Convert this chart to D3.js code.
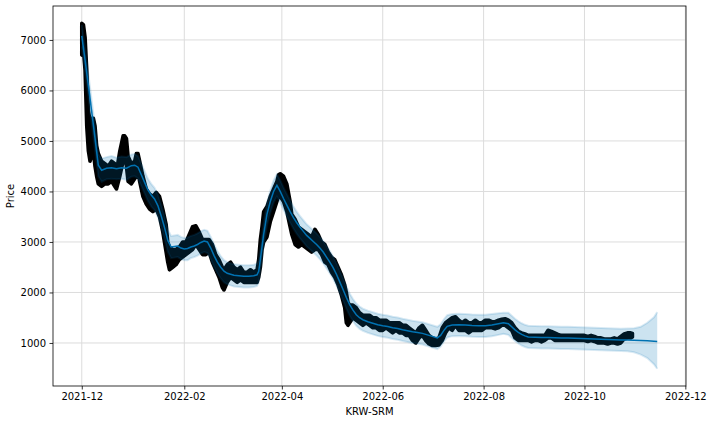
<!DOCTYPE html>
<html>
<head>
<meta charset="utf-8">
<script src="https://cdn.jsdelivr.net/npm/d3@7"></script>
<style>
html,body{margin:0;padding:0;background:#fff;}
svg{display:block;}
text{font-family:"DejaVu Sans",sans-serif;}
</style>
</head>
<body>
<svg id="chart" width="712" height="424"></svg>
<script>
// Observed data (daily low/high of the dense point cloud)
const obsDates = ["2021-12-01","2021-12-02","2021-12-03","2021-12-04","2021-12-05","2021-12-06","2021-12-07","2021-12-08","2021-12-09","2021-12-10","2021-12-11","2021-12-13","2021-12-15","2021-12-17","2021-12-19","2021-12-21","2021-12-22","2021-12-24","2021-12-26","2021-12-27","2021-12-28","2021-12-29","2021-12-31","2022-01-02","2022-01-03","2022-01-04","2022-01-05","2022-01-07","2022-01-09","2022-01-11","2022-01-13","2022-01-15","2022-01-17","2022-01-19","2022-01-21","2022-01-22","2022-01-23","2022-01-25","2022-01-27","2022-01-29","2022-01-31","2022-02-02","2022-02-04","2022-02-06","2022-02-08","2022-02-10","2022-02-12","2022-02-14","2022-02-16","2022-02-18","2022-02-20","2022-02-22","2022-02-24","2022-02-25","2022-02-27","2022-03-01","2022-03-03","2022-03-05","2022-03-07","2022-03-09","2022-03-11","2022-03-13","2022-03-15","2022-03-17","2022-03-18","2022-03-19","2022-03-20","2022-03-21","2022-03-23","2022-03-25","2022-03-27","2022-03-29","2022-03-30","2022-03-31","2022-04-02","2022-04-04","2022-04-06","2022-04-07","2022-04-09","2022-04-11","2022-04-13","2022-04-15","2022-04-17","2022-04-19","2022-04-21","2022-04-23","2022-04-25","2022-04-27","2022-04-29","2022-05-01","2022-05-03","2022-05-05","2022-05-07","2022-05-09","2022-05-10","2022-05-11","2022-05-12","2022-05-14","2022-05-16","2022-05-18","2022-05-20","2022-05-22","2022-05-24","2022-05-26","2022-05-28","2022-05-30","2022-06-01","2022-06-03","2022-06-05","2022-06-07","2022-06-09","2022-06-11","2022-06-13","2022-06-15","2022-06-17","2022-06-19","2022-06-21","2022-06-23","2022-06-25","2022-06-27","2022-06-29","2022-07-01","2022-07-03","2022-07-05","2022-07-07","2022-07-09","2022-07-11","2022-07-13","2022-07-15","2022-07-17","2022-07-19","2022-07-21","2022-07-23","2022-07-25","2022-07-27","2022-07-29","2022-07-31","2022-08-02","2022-08-04","2022-08-06","2022-08-08","2022-08-10","2022-08-12","2022-08-14","2022-08-16","2022-08-18","2022-08-20","2022-08-22","2022-08-24","2022-08-26","2022-08-28","2022-08-30","2022-09-01","2022-09-03","2022-09-05","2022-09-07","2022-09-09","2022-09-11","2022-09-13","2022-09-15","2022-09-17","2022-09-19","2022-09-21","2022-09-23","2022-09-25","2022-09-27","2022-09-29","2022-10-01","2022-10-03","2022-10-05","2022-10-07","2022-10-09","2022-10-11","2022-10-13","2022-10-15","2022-10-17","2022-10-19","2022-10-21","2022-10-23","2022-10-25","2022-10-27","2022-10-29","2022-10-30"];
const obsLow = [6700,6800,6400,5300,4800,4600,4700,4800,4500,4300,4150,4100,4150,4150,4200,4100,4050,4300,4600,4700,4500,4200,4150,4250,4300,4400,4200,3900,3750,3650,3600,3650,3500,3200,2800,2600,2450,2500,2550,2650,2700,2750,2800,2850,2950,2850,2750,2750,2800,2600,2450,2300,2100,2050,2200,2300,2250,2200,2250,2200,2200,2200,2200,2200,2300,2500,2850,3000,3100,3400,3600,3800,3900,3900,3800,3600,3300,3150,2950,2900,2950,2900,2850,2800,2850,2850,2750,2600,2550,2400,2300,2150,1950,1700,1400,1350,1400,1500,1450,1400,1350,1400,1350,1300,1300,1250,1250,1300,1250,1200,1250,1200,1200,1150,1150,1050,1000,1100,1150,1050,980,950,950,960,1050,1200,1300,1250,1350,1250,1250,1250,1200,1250,1250,1250,1250,1300,1300,1300,1280,1300,1350,1350,1300,1250,1100,1050,1050,1050,1050,1020,1050,1050,1020,1050,1100,1100,1050,1050,1050,1050,1050,1050,1050,1050,1050,1050,1030,1050,1030,1000,1000,1000,980,1000,1000,980,1000,1080,1100,1100,1120];
const obsHigh = [7330,7300,7050,6400,5600,5400,5450,5450,5300,4900,4750,4600,4550,4500,4600,4550,4400,4800,5100,5100,5050,4700,4550,4600,4750,4750,4600,4300,4050,3950,3900,3980,3900,3650,3350,3000,2900,2850,2850,2900,3000,3000,3150,3300,3320,3200,3050,3050,3050,2950,2750,2650,2500,2450,2550,2600,2500,2450,2500,2400,2400,2450,2400,2450,2650,3050,3300,3600,3700,3900,4050,4200,4330,4350,4300,4150,3800,3550,3450,3300,3250,3200,3150,3100,3250,3150,3000,2950,2800,2700,2650,2500,2350,2150,2000,1800,1750,1750,1700,1600,1550,1550,1550,1500,1500,1450,1450,1450,1400,1400,1400,1400,1350,1350,1300,1250,1200,1300,1350,1250,1150,1100,1080,1100,1300,1400,1450,1500,1520,1450,1400,1450,1400,1400,1450,1400,1400,1450,1450,1420,1420,1450,1470,1480,1450,1400,1300,1230,1200,1180,1150,1150,1150,1150,1150,1150,1250,1230,1200,1170,1150,1150,1150,1150,1150,1150,1150,1150,1130,1150,1130,1100,1100,1080,1080,1080,1100,1080,1130,1180,1200,1200,1190];

// Forecast (yhat with uncertainty interval)
const fcDates = ["2021-12-01","2021-12-03","2021-12-05","2021-12-07","2021-12-09","2021-12-11","2021-12-13","2021-12-16","2021-12-19","2021-12-22","2021-12-25","2021-12-28","2021-12-31","2022-01-02","2022-01-04","2022-01-06","2022-01-08","2022-01-10","2022-01-12","2022-01-14","2022-01-16","2022-01-18","2022-01-20","2022-01-22","2022-01-24","2022-01-26","2022-01-28","2022-01-30","2022-02-01","2022-02-03","2022-02-05","2022-02-07","2022-02-09","2022-02-11","2022-02-13","2022-02-15","2022-02-17","2022-02-19","2022-02-21","2022-02-23","2022-02-25","2022-02-27","2022-03-01","2022-03-03","2022-03-06","2022-03-09","2022-03-12","2022-03-15","2022-03-17","2022-03-18","2022-03-19","2022-03-21","2022-03-23","2022-03-25","2022-03-27","2022-03-29","2022-03-31","2022-04-02","2022-04-04","2022-04-06","2022-04-08","2022-04-10","2022-04-12","2022-04-14","2022-04-16","2022-04-18","2022-04-20","2022-04-22","2022-04-24","2022-04-26","2022-04-28","2022-04-30","2022-05-02","2022-05-04","2022-05-06","2022-05-08","2022-05-10","2022-05-12","2022-05-14","2022-05-16","2022-05-18","2022-05-20","2022-05-23","2022-05-26","2022-05-29","2022-06-01","2022-06-04","2022-06-07","2022-06-10","2022-06-13","2022-06-16","2022-06-19","2022-06-22","2022-06-25","2022-06-28","2022-07-01","2022-07-04","2022-07-06","2022-07-08","2022-07-10","2022-07-13","2022-07-17","2022-07-21","2022-07-25","2022-07-29","2022-08-02","2022-08-06","2022-08-10","2022-08-13","2022-08-16","2022-08-18","2022-08-20","2022-08-22","2022-08-24","2022-08-26","2022-08-28","2022-09-01","2022-09-05","2022-09-09","2022-09-13","2022-09-17","2022-09-21","2022-09-25","2022-09-29","2022-10-03","2022-10-07","2022-10-11","2022-10-15","2022-10-19","2022-10-23","2022-10-27","2022-10-31","2022-11-04","2022-11-08","2022-11-12","2022-11-14"];
const yhat = [7080,6600,6100,5580,5060,4520,4420,4460,4470,4450,4470,4460,4510,4520,4480,4330,4180,4030,3930,3850,3720,3520,3290,3030,2900,2910,2920,2880,2860,2870,2900,2920,2950,2990,3020,3000,2880,2730,2600,2500,2420,2380,2360,2340,2330,2320,2320,2330,2350,2420,2650,3150,3550,3800,4000,4120,4000,3860,3730,3600,3480,3380,3290,3210,3130,3070,3010,2950,2880,2800,2700,2600,2490,2360,2210,2060,1900,1760,1650,1560,1500,1460,1420,1390,1360,1340,1325,1300,1285,1260,1240,1220,1205,1190,1160,1130,1100,1150,1250,1330,1355,1360,1355,1345,1340,1340,1355,1380,1400,1380,1320,1260,1210,1170,1140,1120,1115,1110,1110,1105,1100,1100,1095,1090,1085,1080,1075,1070,1065,1060,1060,1055,1050,1045,1035,1030];
const yhatLower = [6870,6380,5880,5350,4840,4300,4190,4240,4250,4240,4250,4230,4290,4300,4260,4110,3960,3810,3700,3630,3500,3300,3070,2810,2680,2690,2700,2660,2640,2640,2680,2700,2730,2770,2800,2780,2660,2510,2380,2280,2200,2160,2140,2120,2110,2100,2100,2110,2130,2200,2430,2930,3330,3580,3780,3900,3780,3640,3510,3380,3260,3160,3070,2990,2910,2850,2790,2730,2660,2580,2480,2380,2270,2140,1990,1840,1680,1540,1430,1340,1280,1240,1200,1170,1140,1120,1105,1080,1065,1040,1020,1000,985,970,940,910,880,930,1030,1110,1135,1140,1135,1125,1120,1120,1135,1160,1180,1160,1100,1040,990,950,920,900,895,890,890,885,880,880,875,870,865,860,855,850,845,840,835,815,770,700,580,490];
const yhatUpper = [7300,6830,6320,5800,5290,4740,4650,4680,4700,4670,4690,4680,4730,4740,4700,4550,4400,4250,4150,4070,3940,3740,3510,3250,3120,3130,3140,3100,3080,3090,3120,3140,3170,3210,3240,3220,3100,2950,2820,2720,2640,2600,2580,2560,2550,2540,2540,2550,2570,2640,2870,3370,3770,4020,4220,4340,4220,4080,3950,3820,3700,3600,3510,3430,3350,3290,3230,3170,3100,3020,2920,2820,2710,2580,2430,2280,2120,1980,1870,1780,1720,1680,1640,1610,1580,1560,1545,1520,1505,1480,1460,1440,1425,1410,1380,1350,1320,1370,1470,1550,1575,1580,1575,1565,1560,1560,1575,1590,1600,1600,1540,1480,1430,1390,1360,1340,1335,1330,1330,1325,1320,1320,1315,1310,1305,1300,1295,1290,1285,1280,1285,1290,1320,1400,1510,1610];

const yTicks = [1000,2000,3000,4000,5000,6000,7000];
const xTickLabels = ["2021-12","2022-02","2022-04","2022-06","2022-08","2022-10","2022-12"];
const xLabel = "KRW-SRM";
const yLabel = "Price";

const parse = d3.timeParse("%Y-%m-%d");
const parseM = d3.timeParse("%Y-%m");
const obs = obsDates.map((d,i)=>({t:parse(d), lo:obsLow[i], hi:obsHigh[i]}));
const fc = fcDates.map((d,i)=>({t:parse(d), y:yhat[i], lo:yhatLower[i], hi:yhatUpper[i]}));

const W = 712, H = 424;
const m = {left:53, top:6, right:26, bottom:38};
const pw = W - m.left - m.right, ph = H - m.top - m.bottom;

const tAll = obs.map(d=>d.t).concat(fc.map(d=>d.t));
const tMin = d3.min(tAll), tMax = d3.max(tAll);
const tPad = (tMax - tMin) * 0.05;
const x = d3.scaleTime().domain([new Date(+tMin - tPad), new Date(+tMax + tPad)]).range([0, pw]);

const vMin = Math.min(d3.min(obsLow), d3.min(yhatLower));
const vMax = Math.max(d3.max(obsHigh), d3.max(yhatUpper));
const vPad = (vMax - vMin) * 0.05;
const y = d3.scaleLinear().domain([vMin - vPad, vMax + vPad]).range([ph, 0]);

const svg = d3.select("#chart");
const g = svg.append("g").attr("transform", `translate(${m.left},${m.top})`);

// grid
const xTicks = xTickLabels.map(s=>parseM(s));
g.append("g").selectAll("line").data(xTicks).join("line")
  .attr("x1", d=>x(d)).attr("x2", d=>x(d)).attr("y1",0).attr("y2",ph)
  .attr("stroke","#dcdcdc").attr("stroke-width",1);
g.append("g").selectAll("line").data(yTicks).join("line")
  .attr("y1", d=>y(d)).attr("y2", d=>y(d)).attr("x1",0).attr("x2",pw)
  .attr("stroke","#dcdcdc").attr("stroke-width",1);

// observed points cloud
const obsArea = d3.area().x(d=>x(d.t)).y0(d=>y(d.lo)).y1(d=>y(d.hi));
g.append("path").datum(obs).attr("d", obsArea)
  .attr("fill","#000").attr("stroke","#000").attr("stroke-width",3.6)
  .attr("stroke-linejoin","round").attr("stroke-linecap","round");

// forecast line
const line = d3.line().x(d=>x(d.t)).y(d=>y(d.y));
g.append("path").datum(fc).attr("d", line)
  .attr("fill","none").attr("stroke","#0072B2").attr("stroke-width",1.5);

// uncertainty band
const band = d3.area().x(d=>x(d.t)).y0(d=>y(d.lo)).y1(d=>y(d.hi));
g.append("path").datum(fc).attr("d", band)
  .attr("fill","#0072B2").attr("fill-opacity",0.2).attr("stroke","none");
const edgeU = d3.line().x(d=>x(d.t)).y(d=>y(d.hi));
const edgeL = d3.line().x(d=>x(d.t)).y(d=>y(d.lo));
[edgeU, edgeL].forEach(fn=>{
  g.append("path").datum(fc).attr("d", fn)
    .attr("fill","none").attr("stroke","#0072B2").attr("stroke-opacity",0.15).attr("stroke-width",2);
});

// axes
const xAxis = d3.axisBottom(x).tickValues(xTicks).tickFormat((d,i)=>xTickLabels[i]).tickSize(3.5).tickPadding(3.5);
const yAxis = d3.axisLeft(y).tickValues(yTicks).tickFormat(d=>String(d)).tickSize(3.5).tickPadding(3.5);
const gx = g.append("g").attr("transform",`translate(0,${ph})`).call(xAxis);
const gy = g.append("g").call(yAxis);
[gx,gy].forEach(a=>{
  a.select(".domain").remove();
  a.selectAll(".tick line").attr("stroke","#000").attr("stroke-width",0.8);
  a.selectAll(".tick text").attr("fill","#000").style("font-size","10px").style("font-family","DejaVu Sans");
});

// frame
g.append("rect").attr("x",0).attr("y",0).attr("width",pw).attr("height",ph)
  .attr("fill","none").attr("stroke","#000").attr("stroke-width",0.8);

// labels
svg.append("text").attr("x", m.left + pw/2).attr("y", 415).attr("text-anchor","middle")
  .style("font-size","10px").attr("fill","#000").text(xLabel);
svg.append("text").attr("transform", `translate(14,${m.top + ph/2}) rotate(-90)`).attr("text-anchor","middle")
  .style("font-size","10px").attr("fill","#000").text(yLabel);
</script>
</body>
</html>
